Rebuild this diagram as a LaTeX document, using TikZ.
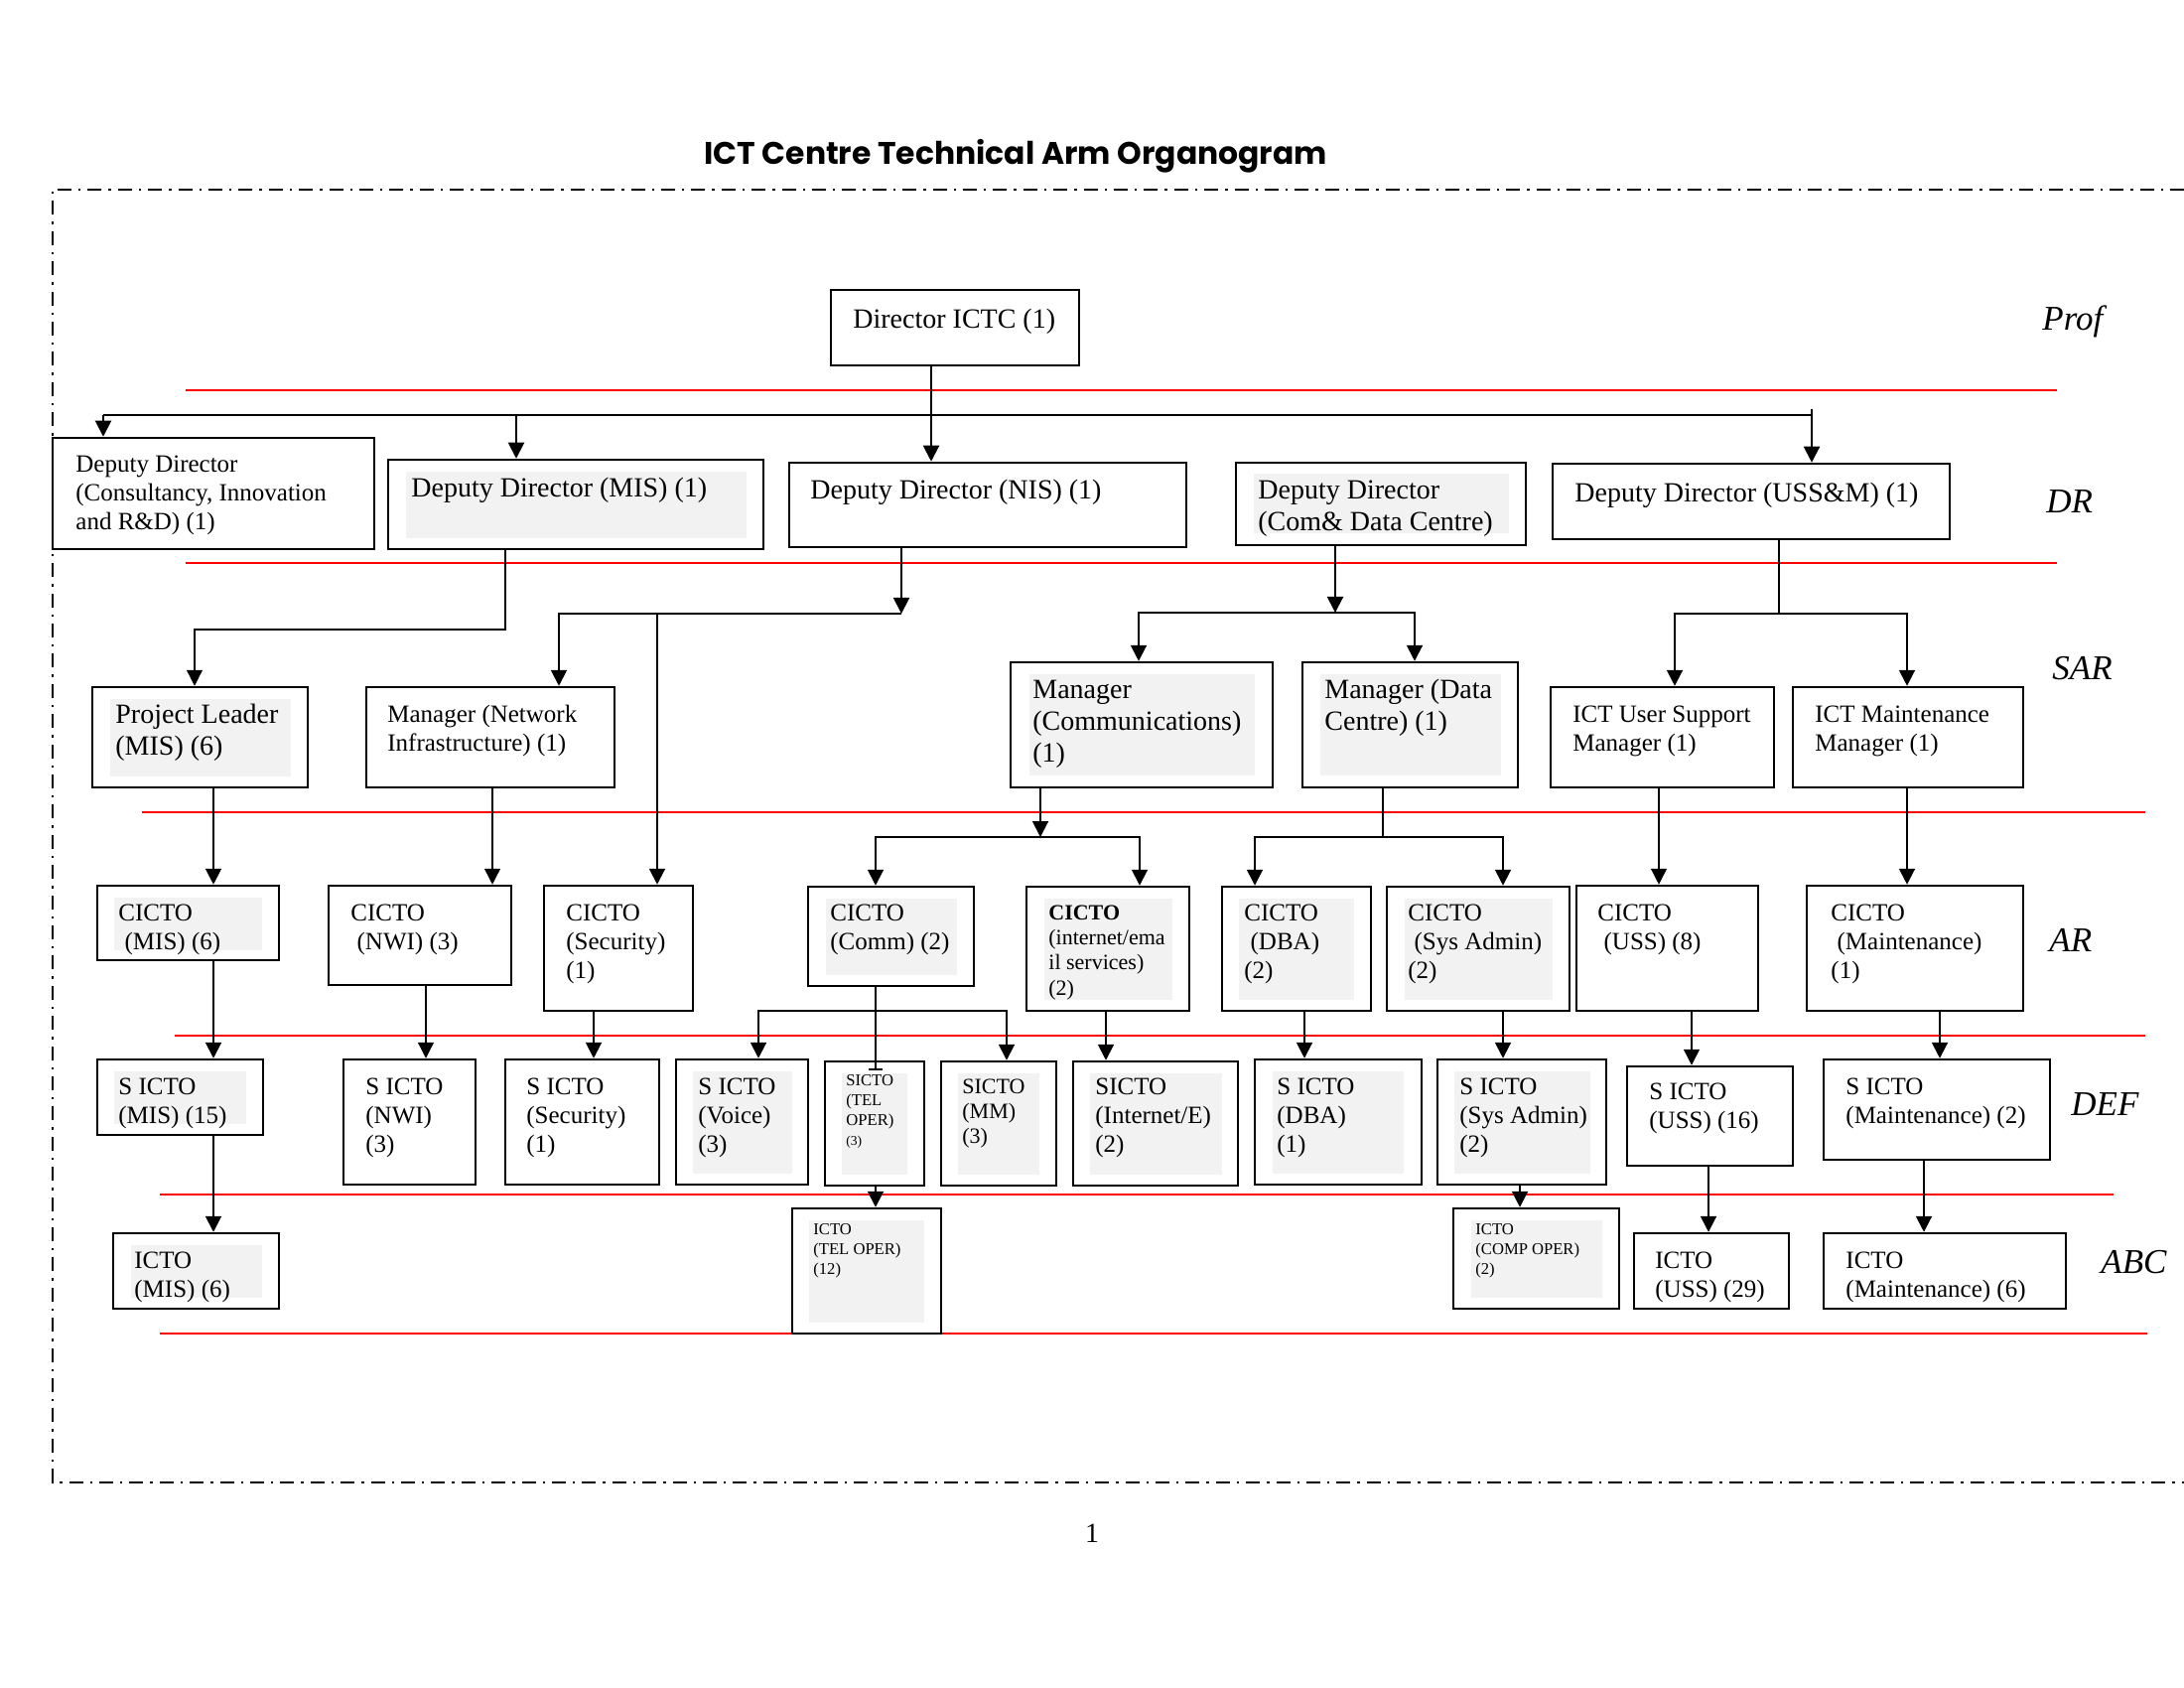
\documentclass[tikz,border=0pt]{standalone}
\usepackage{fontspec}
\setmainfont{Liberation Serif}
\newfontfamily\titlefont{Poppins}
\usetikzlibrary{arrows.meta,fit}
\definecolor{shadegray}{HTML}{F2F2F2}
\newcommand\FA{\fontsize{14}{16}\selectfont}
\newcommand\FB{\fontsize{12.5}{14.5}\selectfont}
\newcommand\FC{\fontsize{11}{12.6}\selectfont}
\newcommand\FD{\fontsize{8.3}{10}\selectfont}
\newcommand\FL{\fontsize{17.5}{20}\selectfont\itshape}
\begin{document}
\begin{tikzpicture}[x=0.5pt,y=-0.5pt,
  bx/.style={draw, line width=1.25pt, inner sep=0pt, rectangle},
  shd/.style={fill=shadegray},
  tA/.style={font=\FA, anchor=north west, inner sep=0pt, align=left, yshift=11.2pt},
  tB/.style={font=\FB, anchor=north west, inner sep=0pt, align=left, yshift=10.15pt},
  tC/.style={font=\FC, anchor=north west, inner sep=0pt, align=left, yshift=8.82pt},
  tD/.style={font=\FD, anchor=north west, inner sep=0pt, align=left, yshift=7pt},
  lab/.style={font=\FL, anchor=base west, inner sep=0pt},
  redl/.style={draw=red, line width=0.9pt},
  conn/.style={draw, line width=1pt},
  thinconn/.style={draw, line width=0.65pt},
  arr/.style={-{Triangle[length=8pt,width=8pt]}},
  frame/.style={draw, line width=0.9pt, dash pattern=on 7pt off 3.5pt on 1.2pt off 3.5pt}
]
\useasboundingbox (0,0) rectangle (2200,1700);

% title and frame
\node[anchor=base west, inner sep=0pt, font=\titlefont\fontsize{15.7}{18}\selectfont\bfseries] (title) at (709,166) {ICT Centre Technical Arm Organogram};
\draw[frame] (2200,191) -- (53,191) -- (53,1493) -- (2200,1493);
\node[font=\FA, anchor=base, inner sep=0pt] (pnum) at (1100,1553) {1};

% level separators
\draw[redl] (187,393) -- (2072,393);
\draw[redl] (187,567) -- (2072,567);
\draw[redl] (143,818) -- (2161,818);
\draw[redl] (176,1043) -- (2161,1043);
\draw[redl] (161,1203) -- (2129,1203);
\draw[redl] (161,1343) -- (2163,1343);

% level labels
\node[lab] (lProf) at (2057,333) {Prof};
\node[lab] (lDR) at (2061,517) {DR};
\node[lab] (lSAR) at (2067,684) {SAR};
\node[lab] (lAR) at (2064,958) {AR};
\node[lab] (lDEF) at (2086,1123) {DEF};
\node[lab] (lABC) at (2116,1282) {ABC};

% grey text backgrounds
\fill[shd] (409,475) rectangle (752,542);
\fill[shd] (1263,477) rectangle (1520,537);
\fill[shd] (111,704) rectangle (293,782);
\fill[shd] (1037,679) rectangle (1264,781);
\fill[shd] (1330,679) rectangle (1512,781);
\fill[shd] (115,904) rectangle (264,957);
\fill[shd] (832,905) rectangle (964,982);
\fill[shd] (1052,905) rectangle (1181,1007);
\fill[shd] (1248,905) rectangle (1364,1007);
\fill[shd] (1415,905) rectangle (1564,1007);
\fill[shd] (115,1079) rectangle (248,1132);
\fill[shd] (698,1079) rectangle (798,1182);
\fill[shd] (848,1081) rectangle (914,1183);
\fill[shd] (965,1081) rectangle (1047,1183);
\fill[shd] (1098,1081) rectangle (1231,1183);
\fill[shd] (1282,1079) rectangle (1414,1182);
\fill[shd] (1465,1079) rectangle (1602,1182);
\fill[shd] (132,1254) rectangle (264,1307);
\fill[shd] (815,1229) rectangle (931,1332);
\fill[shd] (1482,1229) rectangle (1614,1307);

% boxes
\node[bx, fit={(837,292) (1087,368)}] (dir) {};
\node[bx, fit={(53,441) (377,553)}] (ddc) {};
\node[bx, fit={(391,463) (769,553)}] (ddm) {};
\node[bx, fit={(795,466) (1195,551)}] (ddn) {};
\node[bx, fit={(1245,466) (1537,549)}] (ddcd) {};
\node[bx, fit={(1564,467) (1964,543)}] (ddu) {};
\node[bx, fit={(93,692) (310,793)}] (pl) {};
\node[bx, fit={(369,692) (619,793)}] (mn) {};
\node[bx, fit={(1018,667) (1282,793)}] (mc) {};
\node[bx, fit={(1312,667) (1529,793)}] (md) {};
\node[bx, fit={(1562,692) (1787,793)}] (mu) {};
\node[bx, fit={(1806,692) (2038,793)}] (mm) {};
\node[bx, fit={(98,892) (281,967)}] (cmis) {};
\node[bx, fit={(331,892) (515,992)}] (cnwi) {};
\node[bx, fit={(548,892) (698,1018)}] (csec) {};
\node[bx, fit={(814,893) (981,993)}] (ccomm) {};
\node[bx, fit={(1034,893) (1198,1018)}] (cint) {};
\node[bx, fit={(1231,893) (1381,1018)}] (cdba) {};
\node[bx, fit={(1397,893) (1581,1018)}] (csys) {};
\node[bx, fit={(1588,892) (1771,1018)}] (cuss) {};
\node[bx, fit={(1820,892) (2038,1018)}] (cmnt) {};
\node[bx, fit={(98,1067) (265,1143)}] (smis) {};
\node[bx, fit={(346,1067) (479,1193)}] (snwi) {};
\node[bx, fit={(509,1067) (664,1193)}] (ssec) {};
\node[bx, fit={(681,1067) (814,1193)}] (svoice) {};
\node[bx, fit={(831,1069) (931,1194)}] (stel) {};
\node[bx, fit={(948,1069) (1064,1194)}] (smm) {};
\node[bx, fit={(1081,1069) (1247,1194)}] (sint) {};
\node[bx, fit={(1264,1067) (1432,1193)}] (sdba) {};
\node[bx, fit={(1448,1067) (1618,1193)}] (ssys) {};
\node[bx, fit={(1639,1074) (1806,1174)}] (suss) {};
\node[bx, fit={(1837,1067) (2065,1168)}] (smnt) {};
\node[bx, fit={(114,1242) (281,1318)}] (imis) {};
\node[bx, fit={(798,1217) (948,1343)}] (itel) {};
\node[bx, fit={(1464,1217) (1631,1318)}] (icomp) {};
\node[bx, fit={(1646,1242) (1802,1318)}] (iuss) {};
\node[bx, fit={(1837,1242) (2081,1318)}] (imnt) {};

% texts
\node[tA] (t-dir) at (859,330) {\strut Director ICTC (1)};
\node[tB] (t-ddc) at (76,475) {\strut Deputy Director\\(Consultancy, Innovation\\and R\&D) (1)};
\node[tA] (t-ddm) at (414,500) {\strut Deputy Director (MIS) (1)};
\node[tA] (t-ddn) at (816,502) {\strut Deputy Director (NIS) (1)};
\node[tA] (t-ddcd) at (1267,502) {\strut Deputy Director\\(Com\& Data Centre)};
\node[tA] (t-ddu) at (1586,505) {\strut Deputy Director (USS\&M) (1)};
\node[tA] (t-pl) at (116,728) {\strut Project Leader\\(MIS) (6)};
\node[tB] (t-mn) at (390,727) {\strut Manager (Network\\Infrastructure) (1)};
\node[tA] (t-mc) at (1040,703) {\strut Manager\\(Communications)\\(1)};
\node[tA] (t-md) at (1334,703) {\strut Manager (Data\\Centre) (1)};
\node[tB] (t-mu) at (1584,727) {\strut ICT User Support\\Manager (1)};
\node[tB] (t-mm) at (1828,727) {\strut ICT Maintenance\\Manager (1)};
\node[tB] (t-cmis) at (119,927) {\strut CICTO\\\ (MIS) (6)};
\node[tB] (t-cnwi) at (353,927) {\strut CICTO\\\ (NWI) (3)};
\node[tB] (t-csec) at (570,927) {\strut CICTO\\(Security)\\(1)};
\node[tB] (t-ccomm) at (836,927) {\strut CICTO\\(Comm) (2)};
\node[tC] (t-cint) at (1056,926) {\strut\textbf{CICTO}\\(internet/ema\\il services)\\(2)};
\node[tB] (t-cdba) at (1253,927) {\strut CICTO\\\ (DBA)\\(2)};
\node[tB] (t-csys) at (1418,927) {\strut CICTO\\\ (Sys Admin)\\(2)};
\node[tB] (t-cuss) at (1609,927) {\strut CICTO\\\ (USS) (8)};
\node[tB] (t-cmnt) at (1844,927) {\strut CICTO\\\ (Maintenance)\\(1)};
\node[tB] (t-smis) at (119,1102) {\strut S ICTO\\(MIS) (15)};
\node[tB] (t-snwi) at (368,1102) {\strut S ICTO\\(NWI)\\(3)};
\node[tB] (t-ssec) at (530,1102) {\strut S ICTO\\(Security)\\(1)};
\node[tB] (t-svoice) at (703,1102) {\strut S ICTO\\(Voice)\\(3)};
\node[tD] (t-stel) at (852,1093) {\strut SICTO\\(TEL\\OPER)\\{\fontsize{6.8}{10}\selectfont(3)}};
\node[tC] (t-smm) at (969,1101) {\strut SICTO\\(MM)\\(3)};
\node[tB] (t-sint) at (1103,1102) {\strut SICTO\\(Internet/E)\\(2)};
\node[tB] (t-sdba) at (1286,1102) {\strut S ICTO\\(DBA)\\(1)};
\node[tB] (t-ssys) at (1470,1102) {\strut S ICTO\\(Sys Admin)\\(2)};
\node[tB] (t-suss) at (1661,1107) {\strut S ICTO\\(USS) (16)};
\node[tB] (t-smnt) at (1859,1102) {\strut S ICTO\\(Maintenance) (2)};
\node[tB] (t-imis) at (135,1277) {\strut ICTO\\(MIS) (6)};
\node[tD] (t-itel) at (819,1243) {\strut ICTO\\(TEL OPER)\\(12)};
\node[tD] (t-icomp) at (1486,1243) {\strut ICTO\\(COMP OPER)\\(2)};
\node[tB] (t-iuss) at (1667,1277) {\strut ICTO\\(USS) (29)};
\node[tB] (t-imnt) at (1859,1277) {\strut ICTO\\(Maintenance) (6)};

% helper columns and rows
\foreach \v in {104,196,215,429,496,509,520,563,598,662,764,882,908,938,1014,1048,1114,1147,1148,1264,1314,1345,1393,1425,1514,1531,1671,1687,1704,1721,1792,1825,1921,1938,1954}
  \coordinate (X\v) at (\v,0);
\foreach \v in {412,418,617,618,634,843,1018,1078}
  \coordinate (Y\v) at (0,\v);

% Prof -> DR
\draw[conn,arr] (dir.south -| X938) -- (ddn.north -| X938);
\draw[conn] (X104 |- Y418) -- (X1825 |- Y418);
\draw[conn,arr] (X104 |- Y418) -- (ddc.north -| X104);
\draw[conn,arr] (X520 |- Y418) -- (ddm.north -| X520);
\draw[conn,arr] (X1825 |- Y412) -- (ddu.north -| X1825);

% DR -> SAR
\draw[thinconn,arr] (ddm.south -| X509) -- (X509 |- Y634) -- (X196 |- Y634) -- (pl.north -| X196);
\draw[conn,arr] (ddn.south -| X908) -- (X908 |- Y618);
\draw[conn,arr] (X908 |- Y618) -- (X563 |- Y618) -- (mn.north -| X563);
\draw[conn,arr] (X662 |- Y618) -- (csec.north -| X662);
\draw[conn,arr] (ddcd.south -| X1345) -- (X1345 |- Y617);
\draw[conn,arr] (X1345 |- Y617) -- (X1147 |- Y617) -- (mc.north -| X1147);
\draw[conn,arr] (X1345 |- Y617) -- (X1425 |- Y617) -- (md.north -| X1425);
\draw[thinconn] (ddu.south -| X1792) -- (X1792 |- Y618);
\draw[conn,arr] (X1792 |- Y618) -- (X1687 |- Y618) -- (mu.north -| X1687);
\draw[conn,arr] (X1792 |- Y618) -- (X1921 |- Y618) -- (mm.north -| X1921);

% SAR -> AR
\draw[conn,arr] (pl.south -| X215) -- (cmis.north -| X215);
\draw[thinconn,arr] (mn.south -| X496) -- (cnwi.north -| X496);
\draw[conn,arr] (mc.south -| X1048) -- (X1048 |- Y843);
\draw[conn,arr] (X1048 |- Y843) -- (X882 |- Y843) -- (ccomm.north -| X882);
\draw[conn,arr] (X1048 |- Y843) -- (X1148 |- Y843) -- (cint.north -| X1148);
\draw[thinconn] (md.south -| X1393) -- (X1393 |- Y843);
\draw[conn,arr] (X1393 |- Y843) -- (X1264 |- Y843) -- (cdba.north -| X1264);
\draw[conn,arr] (X1393 |- Y843) -- (X1514 |- Y843) -- (csys.north -| X1514);
\draw[thinconn,arr] (mu.south -| X1671) -- (cuss.north -| X1671);
\draw[conn,arr] (mm.south -| X1921) -- (cmnt.north -| X1921);

% AR -> DEF
\draw[conn,arr] (cmis.south -| X215) -- (smis.north -| X215);
\draw[thinconn,arr] (cnwi.south -| X429) -- (snwi.north -| X429);
\draw[conn,arr] (csec.south -| X598) -- (ssec.north -| X598);
\draw[conn,-{Bar[width=7pt]}] (ccomm.south -| X882) -- (X882 |- Y1078);
\draw[conn,arr] (X882 |- Y1018) -- (X764 |- Y1018) -- (svoice.north -| X764);
\draw[conn,arr] (X882 |- Y1018) -- (X1014 |- Y1018) -- (smm.north -| X1014);
\draw[conn,arr] (cint.south -| X1114) -- (sint.north -| X1114);
\draw[conn,arr] (cdba.south -| X1314) -- (sdba.north -| X1314);
\draw[conn,arr] (csys.south -| X1514) -- (ssys.north -| X1514);
\draw[thinconn,arr] (cuss.south -| X1704) -- (suss.north -| X1704);
\draw[conn,arr] (cmnt.south -| X1954) -- (smnt.north -| X1954);

% DEF -> ABC
\draw[conn,arr] (smis.south -| X215) -- (imis.north -| X215);
\draw[conn,arr] (stel.south -| X882) -- (itel.north -| X882);
\draw[conn,arr] (ssys.south -| X1531) -- (icomp.north -| X1531);
\draw[conn,arr] (suss.south -| X1721) -- (iuss.north -| X1721);
\draw[conn,arr] (smnt.south -| X1938) -- (imnt.north -| X1938);
\end{tikzpicture}
\end{document}
